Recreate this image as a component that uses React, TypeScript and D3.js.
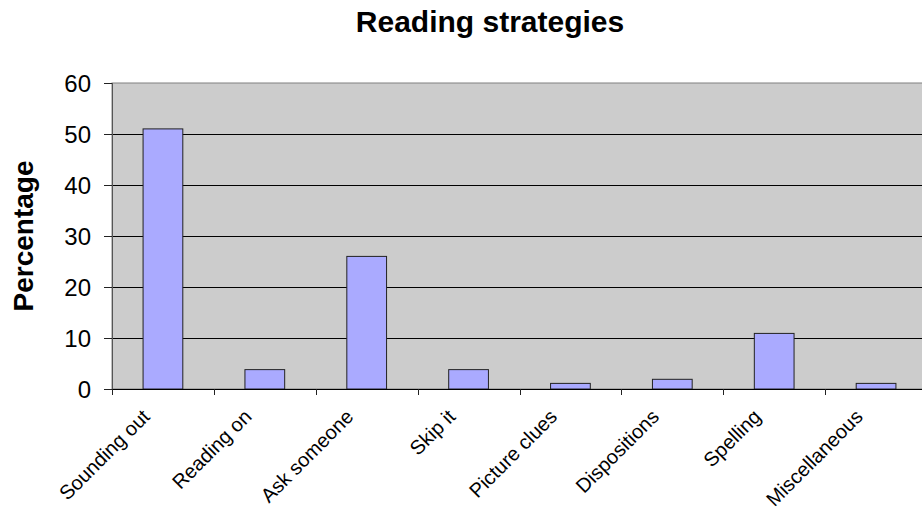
import * as d3 from "d3";

const categories = [
  "Sounding out",
  "Reading on",
  "Ask someone",
  "Skip it",
  "Picture clues",
  "Dispositions",
  "Spelling",
  "Miscellaneous",
];
const percentages = [51, 3.8, 26, 3.8, 1.1, 1.9, 10.9, 1.1];
const yTicks = [0, 10, 20, 30, 40, 50, 60];

const W = 922;
const H = 512;
const FONT = "'Liberation Sans', Arial, sans-serif";

export default function App() {
  const left = 112;
  const right = 927;
  const top = 83;
  const bottom = 389;

  const x = d3.scaleBand<string>().domain(categories).range([left, right]);
  const y = d3.scaleLinear().domain([0, 60]).range([bottom, top]);
  const barW = x.bandwidth() * 0.39;

  return (
    <svg
      width={W}
      height={H}
      style={{ position: "absolute", left: 0, top: 0, background: "#fff" }}
      fontFamily={FONT}
    >
      <text x={490} y={32} textAnchor="middle" fontSize={30} fontWeight="bold">
        Reading strategies
      </text>

      {/* plot area */}
      <rect
        x={left}
        y={top}
        width={right - left}
        height={bottom - top}
        fill="#cccccc"
        stroke="#808080"
        strokeWidth={1}
      />
      {yTicks.slice(1, -1).map((t) => (
        <line
          key={t}
          x1={left}
          x2={right}
          y1={Math.round(y(t)) + 0.5}
          y2={Math.round(y(t)) + 0.5}
          stroke="#000"
          strokeWidth={1}
        />
      ))}

      {/* bars */}
      {categories.map((c, i) => (
        <rect
          key={c}
          x={x(c)! + (x.bandwidth() - barW) / 2}
          y={y(percentages[i])}
          width={barW}
          height={y(0) - y(percentages[i])}
          fill="#aaaaff"
          stroke="#222"
          strokeWidth={1}
        />
      ))}

      {/* y axis */}
      <line x1={left + 0.5} x2={left + 0.5} y1={top} y2={bottom} stroke="#555" />
      {yTicks.map((t) => (
        <g key={t}>
          <line
            x1={left - 8}
            x2={left}
            y1={Math.round(y(t)) + 0.5}
            y2={Math.round(y(t)) + 0.5}
            stroke="#222"
          />
          <text x={91} y={y(t) + 8.5} textAnchor="end" fontSize={24}>
            {t}
          </text>
        </g>
      ))}
      <text
        transform={`translate(33,${(top + bottom) / 2}) rotate(-90)`}
        textAnchor="middle"
        fontSize={28}
        fontWeight="bold"
      >
        Percentage
      </text>

      {/* x axis */}
      <line x1={left} x2={right} y1={bottom + 0.5} y2={bottom + 0.5} stroke="#000" />
      {categories.map((c) => (
        <line
          key={"t" + c}
          x1={Math.round(x(c)!) + 0.5}
          x2={Math.round(x(c)!) + 0.5}
          y1={bottom}
          y2={bottom + 6}
          stroke="#222"
        />
      ))}
      {categories.map((c) => {
        const cx = x(c)! + x.bandwidth() / 2;
        return (
          <text
            key={"l" + c}
            transform={`translate(${cx - 12},${bottom + 29}) rotate(-45)`}
            textAnchor="end"
            fontSize={20}
          >
            {c}
          </text>
        );
      })}
    </svg>
  );
}
